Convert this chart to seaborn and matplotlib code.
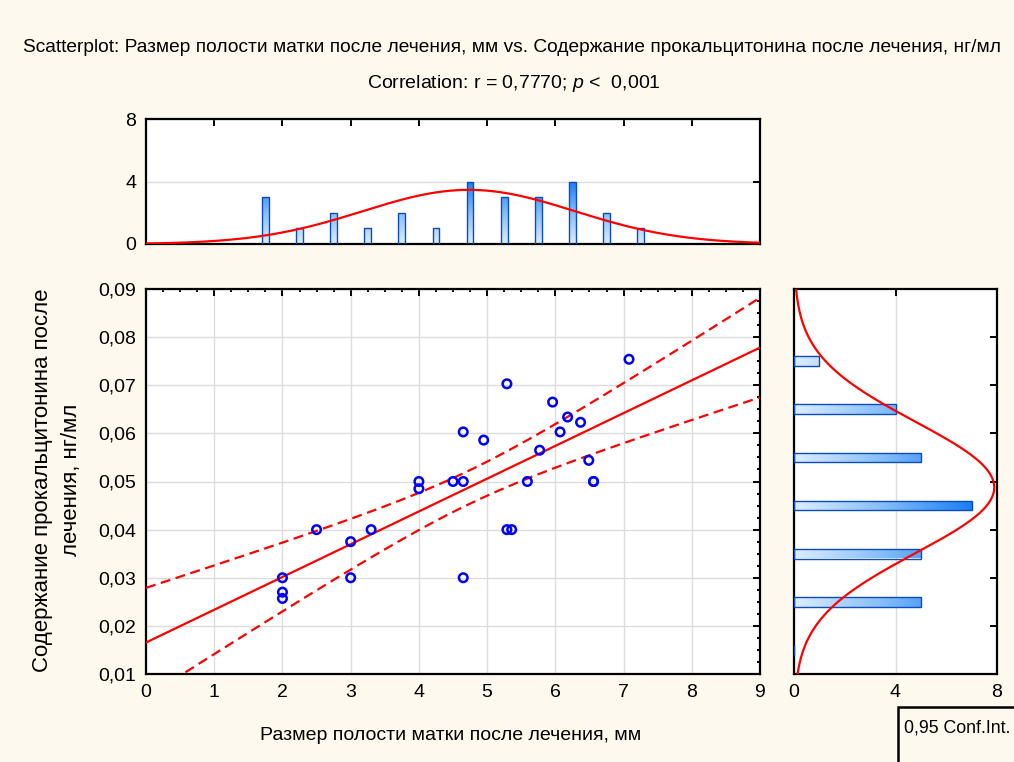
import numpy as np
import pandas as pd
import matplotlib
matplotlib.use("Agg")
import matplotlib.pyplot as plt
from matplotlib.colors import LinearSegmentedColormap
from matplotlib.patches import Rectangle
from matplotlib.ticker import MultipleLocator, FuncFormatter
import seaborn as sns

# =========================
# DATA
# =========================
cavity_mm = [2.0, 2.0, 2.0, 2.5, 3.0, 3.0, 3.3, 4.0, 4.0, 4.5,
             4.65, 4.65, 4.65, 4.95, 5.29, 5.29, 5.36, 5.59, 5.77, 5.96,
             6.07, 6.18, 6.37, 6.49, 6.56, 6.56, 7.08]
pct_ng_ml = [0.030, 0.027, 0.0257, 0.040, 0.0375, 0.030, 0.040, 0.050, 0.0485, 0.050,
             0.050, 0.0603, 0.030, 0.0586, 0.0703, 0.040, 0.040, 0.050, 0.0565, 0.0665,
             0.0603, 0.0634, 0.0623, 0.0544, 0.050, 0.050, 0.0754]

# histogram of the x variable (bin centres, counts)
x_bins = [1.25, 1.75, 2.25, 2.75, 3.25, 3.75, 4.25, 4.75, 5.25, 5.75, 6.25, 6.75, 7.25]
x_counts = [0, 3, 1, 2, 1, 2, 1, 4, 3, 3, 4, 2, 1]
x_binwidth = 0.5

# histogram of the y variable
y_bins = [0.015, 0.025, 0.035, 0.045, 0.055, 0.065, 0.075]
y_counts = [0, 5, 5, 7, 5, 4, 1]
y_binwidth = 0.01

title1 = "Scatterplot: Размер полости матки после лечения, мм vs. Содержание прокальцитонина после лечения, нг/мл"
title2 = r"Correlation: r = 0,7770; $\mathit{p}$ <  0,001"
xlabel = "Размер полости матки после лечения, мм"
ylabel = "Содержание прокальцитонина после\nлечения, нг/мл"
legend_text = "0,95 Conf.Int."

T_CRIT = 2.0595  # t(0.975, df=25)

# =========================
# STYLE
# =========================
BG = "#fef9ee"
sns.set_theme(style="white")
plt.rcParams["font.family"] = ["Liberation Sans", "DejaVu Sans"]
plt.rcParams["mathtext.fontset"] = "custom"
plt.rcParams["mathtext.rm"] = "Liberation Sans"
plt.rcParams["mathtext.it"] = "Liberation Sans:italic"
plt.rcParams["axes.linewidth"] = 1.6
plt.rcParams["axes.edgecolor"] = "black"
plt.rcParams["text.color"] = "black"
plt.rcParams["xtick.color"] = "black"
plt.rcParams["ytick.color"] = "black"

bar_cmap = LinearSegmentedColormap.from_list("statblue", ["#dcedff", "#86bdf8", "#1c7ef5"])
EDGE = "#0b4cc0"
RED = "#ff0000"
FS = 14

W, H = 1014, 762
fig = plt.figure(figsize=(W / 100, H / 100), dpi=100, facecolor=BG)


def box(l, t, r, b):
    return [l / W, 1 - b / H, (r - l) / W, (b - t) / H]


ax_top = fig.add_axes(box(146, 119, 760, 244))
ax = fig.add_axes(box(146, 289, 760, 674))
ax_r = fig.add_axes(box(794, 289, 997, 674))

df = pd.DataFrame({"x": cavity_mm, "y": pct_ng_ml})
xa = df["x"].to_numpy()
ya = df["y"].to_numpy()
n = len(df)


def gradient_bars(axis, horizontal, vmax):
    for p in axis.patches:
        x0, y0, w, h = p.get_x(), p.get_y(), p.get_width(), p.get_height()
        p.set_facecolor("none")
        p.set_edgecolor(EDGE)
        p.set_linewidth(1.0)
        p.set_zorder(3)
        if horizontal:
            if w <= 0:
                continue
            grad = np.linspace(0, w / vmax, 64).reshape(1, -1)
        else:
            if h <= 0:
                continue
            grad = np.linspace(0, h / vmax, 64).reshape(-1, 1)
        im = axis.imshow(grad, cmap=bar_cmap, vmin=0, vmax=1,
                         extent=(x0, x0 + w, y0, y0 + h), origin="lower",
                         aspect="auto", interpolation="bilinear", zorder=2)
        im.set_clip_path(p)


def normal_pdf(v, mu, sd):
    return np.exp(-0.5 * ((v - mu) / sd) ** 2) / (sd * np.sqrt(2 * np.pi))


# =========================
# MAIN SCATTER + FIT
# =========================
slope, intercept = np.polyfit(xa, ya, 1)
resid = ya - (intercept + slope * xa)
s = np.sqrt(np.sum(resid ** 2) / (n - 2))
sxx = np.sum((xa - xa.mean()) ** 2)
xs = np.linspace(0, 9, 300)
fit = intercept + slope * xs
half = T_CRIT * s * np.sqrt(1 / n + (xs - xa.mean()) ** 2 / sxx)

ax.set_facecolor("white")
ax.plot(xs, fit, color=RED, lw=1.6, zorder=3)
ax.plot(xs, fit + half, color=RED, lw=1.6, dashes=(4.5, 2.5), zorder=3)
ax.plot(xs, fit - half, color=RED, lw=1.6, dashes=(4.5, 2.5), zorder=3)
sns.scatterplot(data=df, x="x", y="y", ax=ax, marker="o", s=38,
                facecolors="none", edgecolor="#0000ff", linewidth=1.8, zorder=4)

ax.set_xlim(0, 9)
ax.set_ylim(0.01, 0.09)
ax.xaxis.set_major_locator(MultipleLocator(1))
ax.xaxis.set_minor_locator(MultipleLocator(0.25))
ax.yaxis.set_major_locator(MultipleLocator(0.01))
ax.yaxis.set_minor_locator(MultipleLocator(0.0025))
ax.yaxis.set_major_formatter(FuncFormatter(lambda v, _: f"{v:.2f}".replace(".", ",")))
ax.grid(True, which="major", color="#dcdcdc", lw=1.0, zorder=0)
ax.set_axisbelow(True)
ax.tick_params(which="both", direction="in", top=True, right=True, colors="black",
               labelsize=FS, width=1.4)
ax.tick_params(which="major", length=5, pad=7)
ax.tick_params(which="minor", length=2.5)
ax.set_xlabel("")
ax.set_ylabel("")

# =========================
# TOP HISTOGRAM
# =========================
ax_top.set_facecolor("white")
sns.barplot(x=x_bins, y=x_counts, ax=ax_top, native_scale=True, width=0.2, color="#8ec0f5")
gradient_bars(ax_top, horizontal=False, vmax=max(x_counts))
xc = np.linspace(0, 9, 300)
ax_top.plot(xc, n * x_binwidth * normal_pdf(xc, xa.mean(), xa.std(ddof=1)),
            color=RED, lw=1.6, zorder=4)
ax_top.set_xlim(0, 9)
ax_top.set_ylim(0, 8)
ax_top.set_yticks([0, 4, 8])
ax_top.xaxis.set_major_locator(MultipleLocator(1))
ax_top.grid(True, axis="y", color="#dcdcdc", lw=1.0, zorder=0)
ax_top.grid(False, axis="x")
ax_top.set_axisbelow(True)
ax_top.tick_params(direction="in", top=True, right=True, length=5, width=1.4,
                   labelbottom=False, labelsize=FS, pad=7)
ax_top.set_xlabel("")
ax_top.set_ylabel("")

# =========================
# RIGHT HISTOGRAM
# =========================
ax_r.set_facecolor("white")
sns.barplot(x=y_counts, y=y_bins, ax=ax_r, orient="h", native_scale=True,
            width=0.2, color="#8ec0f5")
gradient_bars(ax_r, horizontal=True, vmax=max(y_counts))
yc = np.linspace(0.01, 0.09, 300)
ax_r.plot(n * y_binwidth * normal_pdf(yc, ya.mean(), ya.std(ddof=1)), yc,
          color=RED, lw=1.6, zorder=4)
ax_r.set_xlim(0, 8)
ax_r.set_ylim(0.01, 0.09)
ax_r.set_xticks([0, 4, 8])
ax_r.yaxis.set_major_locator(MultipleLocator(0.01))
ax_r.grid(True, axis="x", color="#dcdcdc", lw=1.0, zorder=0)
ax_r.grid(False, axis="y")
ax_r.set_axisbelow(True)
ax_r.tick_params(direction="in", top=True, right=True, length=5, width=1.4,
                 labelleft=False, labelsize=FS, pad=7)
ax_r.set_xlabel("")
ax_r.set_ylabel("")

# =========================
# TEXT
# =========================
fig.text(512 / W, 1 - 47 / H, title1, ha="center", va="center", fontsize=13.8)
fig.text(514 / W, 1 - 83 / H, title2, ha="center", va="center", fontsize=14)
fig.text(451 / W, 1 - 735 / H, xlabel, ha="center", va="center", fontsize=14)
fig.text(57 / W, 1 - 480 / H, ylabel, ha="center", va="center", rotation=90,
         fontsize=16, multialignment="center", linespacing=1.45)

# legend box (cut off at the figure edge)
fig.patches.append(Rectangle((898 / W, -0.1), 0.2, 0.1 + (H - 707) / H,
                             transform=fig.transFigure, fill=False,
                             edgecolor="black", lw=1.8))
fig.text(904 / W, 1 - 728 / H, legend_text, ha="left", va="center", fontsize=12.8)

fig.savefig("out.png", dpi=100, facecolor=BG)
